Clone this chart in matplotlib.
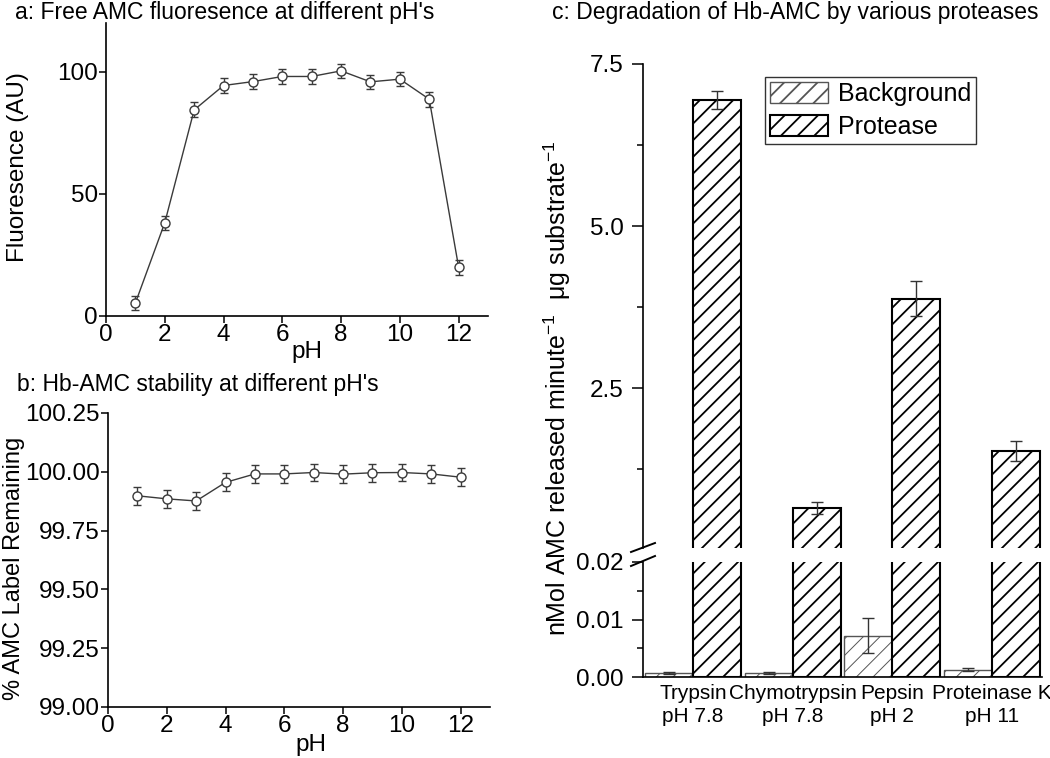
import matplotlib
matplotlib.use('Agg')
import matplotlib.pyplot as plt
from matplotlib.lines import Line2D
from matplotlib.ticker import FixedLocator, FormatStrFormatter
import numpy as np

plt.rcParams['font.family'] = ['Liberation Sans', 'DejaVu Sans']
plt.rcParams['mathtext.fontset'] = 'custom'
plt.rcParams['mathtext.rm'] = 'Liberation Sans'
plt.rcParams['mathtext.it'] = 'Liberation Sans:italic'
plt.rcParams['mathtext.default'] = 'regular'
plt.rcParams['hatch.linewidth'] = 1.3

# ---------------- data ----------------
ph = [1, 2, 3, 4, 5, 6, 7, 8, 9, 10, 11, 12]
fluor = [5.3, 38.2, 84.4, 94.4, 96.0, 98.1, 98.1, 100.4, 95.9, 97.0, 88.8, 20.0]
fluor_err = [2.9, 2.9, 3.1, 2.9, 3.1, 3.1, 3.1, 3.0, 3.0, 3.0, 3.1, 3.1]

stab = [99.898, 99.885, 99.876, 99.955, 99.991, 99.991, 99.997, 99.990,
        99.996, 99.997, 99.991, 99.977]
stab_err = [0.039, 0.039, 0.038, 0.038, 0.038, 0.038, 0.038, 0.038,
            0.038, 0.038, 0.038, 0.038]

proteases = ['Trypsin\npH 7.8', 'Chymotrypsin\npH 7.8', 'Pepsin\npH 2', 'Proteinase K\npH 11']
background = [0.0007, 0.0007, 0.0072, 0.0013]
background_err = [0.0001, 0.0001, 0.0031, 0.0002]
protease = [6.95, 0.66, 3.88, 1.54]
protease_err = [0.14, 0.095, 0.27, 0.155]

# ---------------- figure ----------------
W, H = 1050, 758
fig = plt.figure(figsize=(W / 100, H / 100), dpi=100)


def px(l, t, r, b):
    return [l / W, 1 - b / H, (r - l) / W, (b - t) / H]


axA = fig.add_axes(px(106, 23, 488, 316))
axB = fig.add_axes(px(108, 413, 490, 707))
axC = fig.add_axes(px(643, 64, 1042, 548))
axD = fig.add_axes(px(643, 562, 1042, 677))

line_col = '#3a3a3a'
FS = 17.5

for ax in (axA, axB):
    ax.spines['top'].set_visible(False)
    ax.spines['right'].set_visible(False)
    ax.spines['left'].set_linewidth(1.2)
    ax.spines['bottom'].set_linewidth(1.2)
    ax.tick_params(direction='out', length=5, width=1.1, labelsize=FS, pad=1)
    ax.set_xlim(0, 13)
    ax.xaxis.set_major_locator(FixedLocator([0, 2, 4, 6, 8, 10, 12]))

# Panel a
axA.errorbar(ph, fluor, yerr=fluor_err, fmt='-o', color=line_col, mfc='white',
             mec=line_col, ms=6.5, mew=1.0, lw=1.0, elinewidth=1.0,
             ecolor=line_col, capsize=3, clip_on=False)
axA.set_ylim(0, 120)
axA.yaxis.set_major_locator(FixedLocator([0, 50, 100]))

# Panel b
axB.errorbar(ph, stab, yerr=stab_err, fmt='-o', color=line_col, mfc='white',
             mec=line_col, ms=6.5, mew=1.0, lw=1.0, elinewidth=1.0,
             ecolor=line_col, capsize=3, clip_on=False)
axB.set_ylim(99.0, 100.25)
axB.yaxis.set_major_locator(FixedLocator([99.0, 99.25, 99.5, 99.75, 100.0, 100.25]))
axB.yaxis.set_major_formatter(FormatStrFormatter('%.2f'))

# Panel c (broken axis)
x = np.arange(1, len(proteases) + 1)
bw = 0.48
handles = None
for ax in (axC, axD):
    with plt.rc_context({'hatch.linewidth': 0.7}):
        b1 = ax.bar(x - bw / 2, background, bw, facecolor='white', edgecolor='#555555',
                    hatch='//', linewidth=1.0, label='Background')
    for p in b1:
        if hasattr(p, 'set_hatch_linewidth'):
            p.set_hatch_linewidth(0.7)
    with plt.rc_context({'hatch.linewidth': 1.3}):
        b2 = ax.bar(x + bw / 2, protease, bw, facecolor='white', edgecolor='black',
                    hatch='//', linewidth=1.5, label='Protease')
    for p in b2:
        if hasattr(p, 'set_hatch_linewidth'):
            p.set_hatch_linewidth(1.3)
    ax.errorbar(x - bw / 2, background, yerr=background_err, fmt='none',
                ecolor='#333333', elinewidth=1.0, capsize=4.3)
    ax.errorbar(x + bw / 2, protease, yerr=protease_err, fmt='none',
                ecolor='#333333', elinewidth=1.0, capsize=4.3)
    ax.set_xlim(0.5, 4.5)
    ax.spines['top'].set_visible(False)
    ax.spines['right'].set_visible(False)
    ax.spines['left'].set_linewidth(1.2)
    ax.spines['bottom'].set_linewidth(1.2)
    ax.tick_params(axis='y', which='major', direction='out', length=8, width=1.1,
                   labelsize=FS, pad=6)
    ax.tick_params(axis='y', which='minor', direction='out', length=4, width=1.1)
    handles = (b1, b2)

axC.spines['bottom'].set_visible(False)
axC.set_ylim(0.04, 7.5)
axC.yaxis.set_major_locator(FixedLocator([2.5, 5.0, 7.5]))
axC.yaxis.set_minor_locator(FixedLocator([1.25, 3.75, 6.25]))
axC.yaxis.set_major_formatter(FormatStrFormatter('%.1f'))
axC.set_xticks([])

axD.set_ylim(0, 0.02)
axD.yaxis.set_major_locator(FixedLocator([0.0, 0.01, 0.02]))
axD.yaxis.set_minor_locator(FixedLocator([0.005, 0.015]))
axD.yaxis.set_major_formatter(FormatStrFormatter('%.2f'))
axD.set_xticks(x)
axD.set_xticklabels(proteases, fontsize=15, linespacing=1.3)
axD.tick_params(axis='x', length=0, pad=5)

# break marks
for (x0, y0, x1, y1) in [(631, 552, 655, 543), (631, 566, 655, 556)]:
    fig.add_artist(Line2D([x0 / W, x1 / W], [1 - y0 / H, 1 - y1 / H],
                          color='black', lw=1.4))

# legend
fig.legend(handles, ['Background', 'Protease'], loc='upper left',
           bbox_to_anchor=(765 / W, 1 - 77 / H), fontsize=18, frameon=True,
           fancybox=False, edgecolor='#333333', framealpha=1,
           handlelength=2.3, handleheight=0.9, borderpad=0.2,
           labelspacing=0.35, handletextpad=0.4, borderaxespad=0)

# titles and labels
fig.text(15 / W, 1 - 12 / H, "a: Free AMC fluoresence at different pH's",
         fontsize=16.5, ha='left', va='center')
fig.text(17 / W, 1 - 385 / H, "b: Hb-AMC stability at different pH's",
         fontsize=16.5, ha='left', va='center')
fig.text(552 / W, 1 - 13 / H, "c: Degradation of Hb-AMC by various proteases",
         fontsize=16.5, ha='left', va='center')

fig.text(18 / W, 1 - 167 / H, 'Fluoresence (AU)', rotation=90, fontsize=17.5,
         ha='center', va='center')
fig.text(14 / W, 1 - 568 / H, '% AMC Label Remaining', rotation=90, fontsize=17,
         ha='center', va='center')
fig.text(557 / W, 1 - 388 / H,
         r'nMol AMC released minute$^{-1}$  $\mu$g substrate$^{-1}$',
         rotation=90, fontsize=18, ha='center', va='center')
fig.text(307 / W, 1 - 352 / H, 'pH', fontsize=17.5, ha='center', va='center')
fig.text(311 / W, 1 - 745 / H, 'pH', fontsize=17.5, ha='center', va='center')

fig.savefig('out.png', dpi=100)
